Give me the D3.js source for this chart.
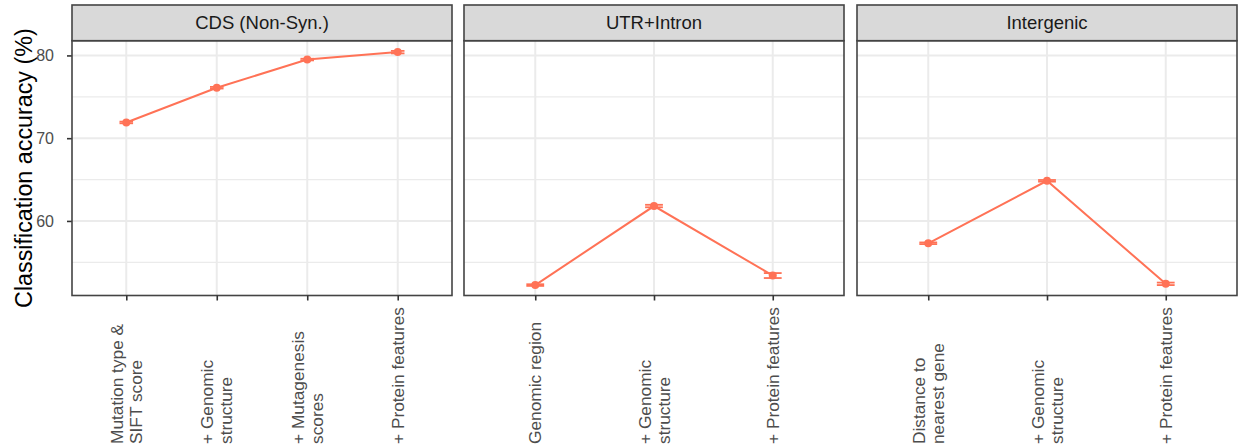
<!DOCTYPE html>
<html>
<head>
<meta charset="utf-8">
<script src="https://cdn.jsdelivr.net/npm/d3@7/dist/d3.min.js"></script>
<style>
  html, body { margin: 0; padding: 0; background: #fff; }
  svg { display: block; font-family: "Liberation Sans", Arial, Helvetica, sans-serif; }
  .ytick text { font-size: 16px; fill: #4D4D4D; font-family: "Liberation Sans", Arial, Helvetica, sans-serif; }
</style>
</head>
<body>
<svg id="chart" width="1239" height="448"></svg>
<script>
// Facet titles
const facetTitles = ["CDS (Non-Syn.)", "UTR+Intron", "Intergenic"];

// CDS (non-synonymous) feature steps and accuracy (mean, error)
const cdsSteps = ["Mutation type &\nSIFT score", "+ Genomic\nstructure", "+ Mutagenesis\nscores", "+ Protein features"];
const cdsAccuracy = [71.9, 76.1, 79.5, 80.4];
const cdsError = [0.1, 0.1, 0.1, 0.15];

// UTR + intron
const utrSteps = ["Genomic region", "+ Genomic\nstructure", "+ Protein features"];
const utrAccuracy = [52.25, 61.8, 53.4];
const utrError = [0.1, 0.15, 0.3];

// Intergenic
const igSteps = ["Distance to\nnearest gene", "+ Genomic\nstructure", "+ Protein features"];
const igAccuracy = [57.3, 64.85, 52.4];
const igError = [0.1, 0.1, 0.15];

// Axis ticks
const yMajorTicks = [60, 70, 80];
const yMinorTicks = [55, 65, 75];
const yLabel = "Classification accuracy (%)";

const facets = [
  { title: facetTitles[0], steps: cdsSteps, acc: cdsAccuracy, err: cdsError },
  { title: facetTitles[1], steps: utrSteps, acc: utrAccuracy, err: utrError },
  { title: facetTitles[2], steps: igSteps, acc: igAccuracy, err: igError }
];

const svg = d3.select("#chart");
const lineColor = "#FF7256";

// layout
const panelLefts = [72, 464, 857];
const panelWidth = 380;
const stripTop = 5, stripBottom = 40.7;
const panelTop = 40.7, panelBottom = 295.5;

const y = d3.scaleLinear().domain([50.99, 81.78]).range([panelBottom, panelTop]);

// y axis (left panel only)
const yAxis = d3.axisLeft(y).tickValues(yMajorTicks).tickSize(5).tickPadding(13);
const gy = svg.append("g").attr("class", "ytick")
  .attr("transform", `translate(${panelLefts[0]},0)`).call(yAxis)
  .attr("font-size", null).attr("font-family", null);
gy.select(".domain").remove();
gy.selectAll(".tick line").attr("stroke", "#333").attr("stroke-width", 1.6);
gy.selectAll(".tick text").attr("fill", "#4D4D4D");

// y title
svg.append("text")
  .attr("transform", `translate(32,${(panelTop + panelBottom) / 2}) rotate(-90)`)
  .attr("text-anchor", "middle")
  .style("font-size", "23.3px")
  .attr("fill", "#000")
  .text(yLabel);

facets.forEach((f, i) => {
  const x0 = panelLefts[i];
  const x = d3.scalePoint().domain(f.steps).range([x0, x0 + panelWidth]).padding(0.6);
  const step = x.step();
  const g = svg.append("g");

  // panel background
  g.append("rect").attr("x", x0).attr("y", panelTop)
    .attr("width", panelWidth).attr("height", panelBottom - panelTop).attr("fill", "#fff");

  // grid
  g.selectAll(".minor").data(yMinorTicks).join("line")
    .attr("x1", x0).attr("x2", x0 + panelWidth)
    .attr("y1", d => y(d)).attr("y2", d => y(d))
    .attr("stroke", "#EBEBEB").attr("stroke-width", 1.3);
  g.selectAll(".major").data(yMajorTicks).join("line")
    .attr("x1", x0).attr("x2", x0 + panelWidth)
    .attr("y1", d => y(d)).attr("y2", d => y(d))
    .attr("stroke", "#EBEBEB").attr("stroke-width", 2);
  g.selectAll(".vgrid").data(f.steps).join("line")
    .attr("x1", d => x(d)).attr("x2", d => x(d))
    .attr("y1", panelTop).attr("y2", panelBottom)
    .attr("stroke", "#EBEBEB").attr("stroke-width", 2);

  const pts = f.steps.map((s, j) => ({ s, v: f.acc[j], e: f.err[j] }));
  const capHalf = step * 0.075;

  // error bars
  const eb = g.selectAll(".eb").data(pts).join("g").attr("stroke", lineColor).attr("stroke-width", 1.8);
  eb.append("line").attr("x1", d => x(d.s) - capHalf).attr("x2", d => x(d.s) + capHalf)
    .attr("y1", d => y(d.v + d.e)).attr("y2", d => y(d.v + d.e));
  eb.append("line").attr("x1", d => x(d.s) - capHalf).attr("x2", d => x(d.s) + capHalf)
    .attr("y1", d => y(d.v - d.e)).attr("y2", d => y(d.v - d.e));
  eb.append("line").attr("x1", d => x(d.s)).attr("x2", d => x(d.s))
    .attr("y1", d => y(d.v + d.e)).attr("y2", d => y(d.v - d.e));

  // line
  g.append("path").datum(pts)
    .attr("d", d3.line().x(d => x(d.s)).y(d => y(d.v)))
    .attr("fill", "none").attr("stroke", lineColor).attr("stroke-width", 2);

  // points
  g.selectAll(".pt").data(pts).join("circle")
    .attr("cx", d => x(d.s)).attr("cy", d => y(d.v)).attr("r", 4)
    .attr("fill", lineColor);

  // panel border
  g.append("rect").attr("x", x0).attr("y", panelTop)
    .attr("width", panelWidth).attr("height", panelBottom - panelTop)
    .attr("fill", "none").attr("stroke", "#444").attr("stroke-width", 1.6);

  // strip
  g.append("rect").attr("x", x0).attr("y", stripTop)
    .attr("width", panelWidth).attr("height", stripBottom - stripTop)
    .attr("fill", "#D9D9D9").attr("stroke", "#444").attr("stroke-width", 1.6);
  g.append("text")
    .attr("x", x0 + panelWidth / 2).attr("y", (stripTop + stripBottom) / 2)
    .attr("dy", "0.35em").attr("text-anchor", "middle")
    .style("font-size", "18.5px").attr("fill", "#1A1A1A")
    .text(f.title);

  // x axis
  const xAxis = d3.axisBottom(x).tickSize(5).tickFormat("");
  const gx = g.append("g").attr("transform", `translate(0,${panelBottom})`).call(xAxis);
  gx.select(".domain").remove();
  gx.selectAll(".tick line").attr("stroke", "#333").attr("stroke-width", 1.6);

  // rotated category labels (possibly two lines)
  const lineGap = 19;
  f.steps.forEach(s => {
    const lines = s.split("\n");
    const t = g.append("text")
      .attr("transform", `translate(${x(s)},444) rotate(-90)`)
      .attr("text-anchor", "start")
      .style("font-size", "17.3px").attr("fill", "#4D4D4D");
    lines.forEach((ln, k) => {
      const off = (k - (lines.length - 1) / 2) * lineGap;
      t.append("tspan").attr("x", 0).attr("y", off).attr("dy", "0.36em").text(ln);
    });
  });
});
</script>
</body>
</html>
